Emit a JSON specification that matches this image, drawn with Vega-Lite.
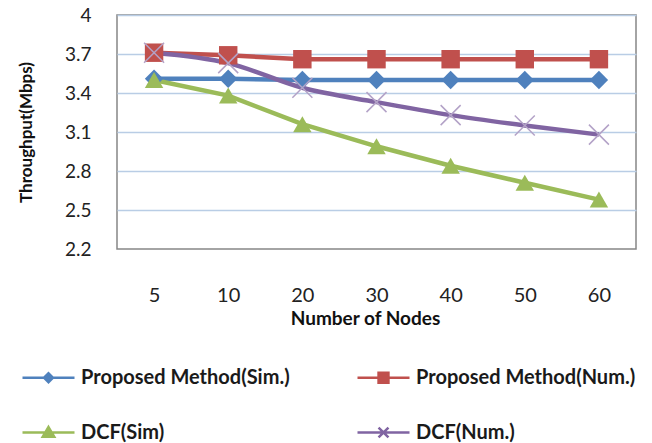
{
  "$schema": "https://vega.github.io/schema/vega-lite/v6.json",
  "width": 519,
  "height": 234,
  "autosize": {"type": "none"},
  "padding": {"left": 117, "top": 15, "right": 16, "bottom": 194},
  "background": "white",
  "config": {
    "font": "Lato",
    "view": {"stroke": "#868686", "strokeWidth": 1.5}
  },
  "data": {
    "values": [
      {"nodes": 5, "series": "Proposed Method(Sim.)", "throughput": 3.51},
      {"nodes": 10, "series": "Proposed Method(Sim.)", "throughput": 3.51},
      {"nodes": 20, "series": "Proposed Method(Sim.)", "throughput": 3.50},
      {"nodes": 30, "series": "Proposed Method(Sim.)", "throughput": 3.50},
      {"nodes": 40, "series": "Proposed Method(Sim.)", "throughput": 3.50},
      {"nodes": 50, "series": "Proposed Method(Sim.)", "throughput": 3.50},
      {"nodes": 60, "series": "Proposed Method(Sim.)", "throughput": 3.50},
      {"nodes": 5, "series": "Proposed Method(Num.)", "throughput": 3.71},
      {"nodes": 10, "series": "Proposed Method(Num.)", "throughput": 3.69},
      {"nodes": 20, "series": "Proposed Method(Num.)", "throughput": 3.66},
      {"nodes": 30, "series": "Proposed Method(Num.)", "throughput": 3.66},
      {"nodes": 40, "series": "Proposed Method(Num.)", "throughput": 3.66},
      {"nodes": 50, "series": "Proposed Method(Num.)", "throughput": 3.66},
      {"nodes": 60, "series": "Proposed Method(Num.)", "throughput": 3.66},
      {"nodes": 5, "series": "DCF(Sim)", "throughput": 3.50},
      {"nodes": 10, "series": "DCF(Sim)", "throughput": 3.38},
      {"nodes": 20, "series": "DCF(Sim)", "throughput": 3.16},
      {"nodes": 30, "series": "DCF(Sim)", "throughput": 2.99},
      {"nodes": 40, "series": "DCF(Sim)", "throughput": 2.84},
      {"nodes": 50, "series": "DCF(Sim)", "throughput": 2.71},
      {"nodes": 60, "series": "DCF(Sim)", "throughput": 2.58},
      {"nodes": 5, "series": "DCF(Num.)", "throughput": 3.71},
      {"nodes": 10, "series": "DCF(Num.)", "throughput": 3.63},
      {"nodes": 20, "series": "DCF(Num.)", "throughput": 3.44},
      {"nodes": 30, "series": "DCF(Num.)", "throughput": 3.33},
      {"nodes": 40, "series": "DCF(Num.)", "throughput": 3.23},
      {"nodes": 50, "series": "DCF(Num.)", "throughput": 3.15},
      {"nodes": 60, "series": "DCF(Num.)", "throughput": 3.08}
    ]
  },
  "encoding": {
    "x": {
      "field": "nodes",
      "type": "ordinal",
      "scale": {"type": "point", "padding": 0.5},
      "axis": {
        "title": "Number of Nodes",
        "labelAngle": 0,
        "ticks": false,
        "domain": false,
        "labelFontSize": 20,
        "labelColor": "#222222",
        "labelPadding": 36,
        "titleFontSize": 19,
        "titleFontWeight": "bold",
        "titleColor": "#111111",
        "titlePadding": 4,
        "titleX": 248
      }
    },
    "y": {
      "field": "throughput",
      "type": "quantitative",
      "scale": {"domain": [2.2, 4], "zero": false, "nice": false},
      "axis": {
        "title": "Throughput(Mbps)",
        "values": [2.2, 2.5, 2.8, 3.1, 3.4, 3.7, 4],
        "labelExpr": "datum.value == 4 ? '4' : format(datum.value, '.1f')",
        "ticks": false,
        "domain": false,
        "labelFontSize": 19,
        "labelColor": "#222222",
        "labelPadding": 26,
        "gridColor": {"condition": {"test": "datum.value < 2.3", "value": "transparent"}, "value": "#b9cde5"},
        "gridWidth": 1.5,
        "titleFontSize": 17,
        "titleFontWeight": "bold",
        "titleColor": "#111111",
        "titlePadding": 29
      }
    },
    "color": {
      "field": "series",
      "type": "nominal",
      "scale": {
        "domain": ["Proposed Method(Sim.)", "Proposed Method(Num.)", "DCF(Sim)", "DCF(Num.)"],
        "range": ["#4f81bd", "#c0504d", "#9bbb59", "#8064a2"]
      },
      "legend": {
        "title": null,
        "orient": "none",
        "direction": "horizontal",
        "legendX": -96,
        "legendY": 335,
        "columns": 2,
        "columnPadding": 62,
        "rowPadding": 17,
        "padding": 0,
        "symbolSize": 2704,
        "labelOffset": 5,
        "labelLimit": 0,
        "labelFont": "Lato",
        "labelFontSize": 20,
        "labelFontWeight": "bold",
        "labelColor": "#1a1a1a",
        "encode": {
          "symbols": {
            "update": {
              "shape": {"signal": "datum.value === 'Proposed Method(Sim.)' ? 'M-1,0L1,0M-0.17,0L0,-0.17L0.17,0L0,0.17Z' : datum.value === 'Proposed Method(Num.)' ? 'M-1,0L1,0M-0.19,-0.19L0.19,-0.19L0.19,0.19L-0.19,0.19Z' : datum.value === 'DCF(Sim)' ? 'M-1,0L1,0M0,-0.21L0.22,0.16L-0.22,0.16Z' : 'M-1,0L1,0M-0.19,-0.19L0.19,0.19M-0.19,0.19L0.19,-0.19'"},
              "size": {"value": 2704},
              "strokeWidth": {"value": 2.5},
              "fill": {"scale": "color", "field": "value"},
              "stroke": {"scale": "color", "field": "value"},
              "fillOpacity": {"value": 1},
              "strokeOpacity": {"value": 1},
              "opacity": {"value": 1}
            }
          }
        }
      }
    }
  },
  "layer": [
    {
      "transform": [{"filter": "datum.series !== 'DCF(Num.)'"}],
      "mark": {"type": "line", "strokeWidth": 4.5}
    },
    {
      "transform": [{"filter": "datum.series === 'DCF(Num.)'"}],
      "mark": {"type": "line", "strokeWidth": 4.5, "interpolate": "monotone"}
    },
    {
      "transform": [{"filter": "datum.series !== 'DCF(Num.)'"}],
      "mark": {"type": "point", "filled": true, "size": 340, "opacity": 1},
      "encoding": {
        "shape": {
          "field": "series",
          "type": "nominal",
          "scale": {
            "domain": ["Proposed Method(Sim.)", "Proposed Method(Num.)", "DCF(Sim)"],
            "range": ["diamond", "square", "triangle-up"]
          },
          "legend": null
        }
      }
    },
    {
      "transform": [{"filter": "datum.series === 'DCF(Num.)'"}],
      "mark": {"type": "point", "shape": "M-1,-1L1,1M-1,1L1,-1", "size": 400, "filled": false, "strokeWidth": 1.5, "opacity": 1},
      "encoding": {"color": {"value": "#b3a2c7"}}
    }
  ]
}
